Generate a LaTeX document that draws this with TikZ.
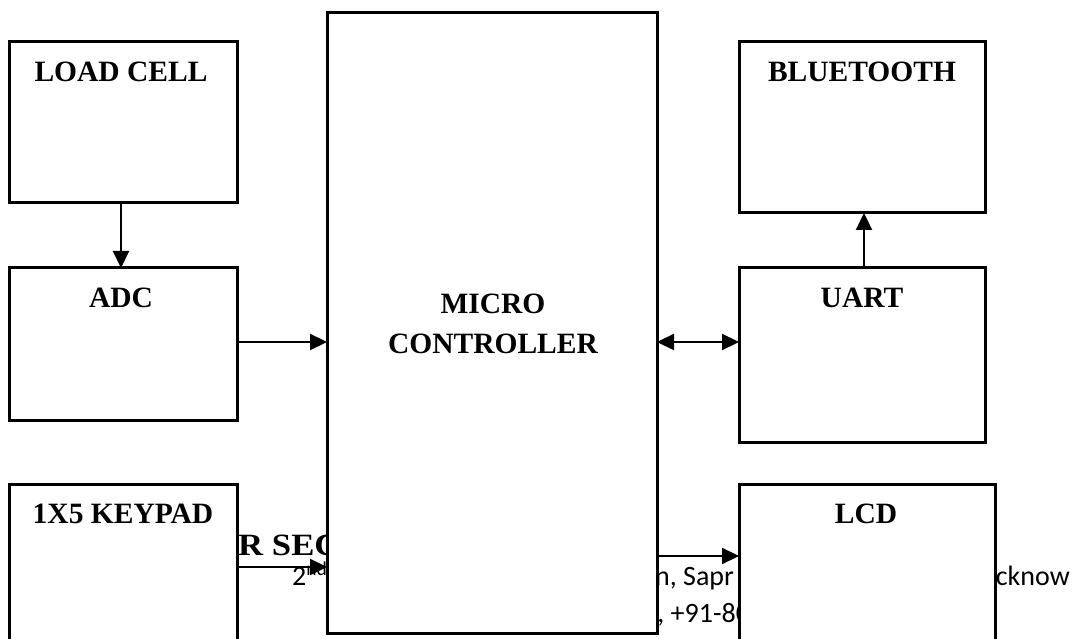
\documentclass[tikz,border=0pt]{standalone}
\usepackage{fontspec}
\setmainfont{Liberation Serif}
\newfontfamily\calfont{Carlito}
\usetikzlibrary{arrows.meta,calc}
\tikzset{
  blk/.style={draw=black, fill=white, line width=3pt, rectangle, inner sep=0pt, outer sep=0pt},
  lbl/.style={font=\fontsize{29.5}{34}\selectfont\bfseries, anchor=base, inner sep=0pt},
  bgtxt/.style={font=\calfont\fontsize{28}{32}\selectfont, anchor=base west, inner sep=0pt},
  conn/.style={line width=2.2pt, -{Triangle[length=17pt,width=16pt]}},
  conn2/.style={line width=2.2pt, {Triangle[length=17pt,width=16pt]}-{Triangle[length=17pt,width=16pt]}}
}
\begin{document}
\begin{tikzpicture}[x=1pt,y=-1pt]
\useasboundingbox (0,0) rectangle (1074,639);
\clip (0,0) rectangle (1074,639);
% background text (partly hidden by boxes)
\node[font=\fontsize{31}{36}\selectfont\bfseries, anchor=base west, inner sep=0pt, xscale=1.12, transform shape] (bg1) at (238,555) {R SECTION};
\node[bgtxt] (bg2) at (292,585) {2\textsuperscript{nd} Floor};
\node[bgtxt] (bg3) at (655,585) {n, Sapr};
\node[bgtxt, anchor=base east] (bg4) at (1070,585) {Lucknow};
\node[bgtxt] (bg5) at (643,622) {4, +91-80};
% boxes
\node[blk, minimum width=228pt, minimum height=161pt] (lc) at (123,122.5) {};
\node[blk, minimum width=228pt, minimum height=152pt] (adc) at (123,344) {};
\node[blk, minimum width=228pt, minimum height=216pt] (kp) at (123,592) {};
\node[blk, minimum width=330pt, minimum height=620pt] (mc) at (492,323) {};
\node[blk, minimum width=246pt, minimum height=171pt] (bt) at (862,127.5) {};
\node[blk, minimum width=246pt, minimum height=174pt] (ua) at (862,355) {};
\node[blk, minimum width=256pt, minimum height=216pt] (lcd) at (867,592) {};
% labels
\node[lbl] (tlc) at (121,82) {LOAD CELL};
\node[lbl] (tadc) at (121,308) {ADC};
\node[lbl] (tkp) at (123,523) {1X5 KEYPAD};
\node[lbl] (tmc1) at (493,313) {MICRO};
\node[lbl] (tmc2) at (493,353) {CONTROLLER};
\node[lbl] (tbt) at (862,82) {BLUETOOTH};
\node[lbl] (tua) at (862,308) {UART};
\node[lbl] (tlcd) at (866,523) {LCD};
% connectors
\coordinate (ya) at (0,342);
\coordinate (yk) at (0,567);
\coordinate (yl) at (0,556);
\coordinate (xl) at (121,0);
\coordinate (xu) at (864,0);
\draw[conn] (lc.south -| xl) -- (adc.north -| xl);
\draw[conn] (adc.east |- ya) -- (mc.west |- ya);
\draw[conn2] (mc.east |- ya) -- (ua.west |- ya);
\draw[conn] (ua.north -| xu) -- (bt.south -| xu);
\draw[conn] (kp.east |- yk) -- (mc.west |- yk);
\draw[conn] (mc.east |- yl) -- (lcd.west |- yl);
\end{tikzpicture}
\end{document}
